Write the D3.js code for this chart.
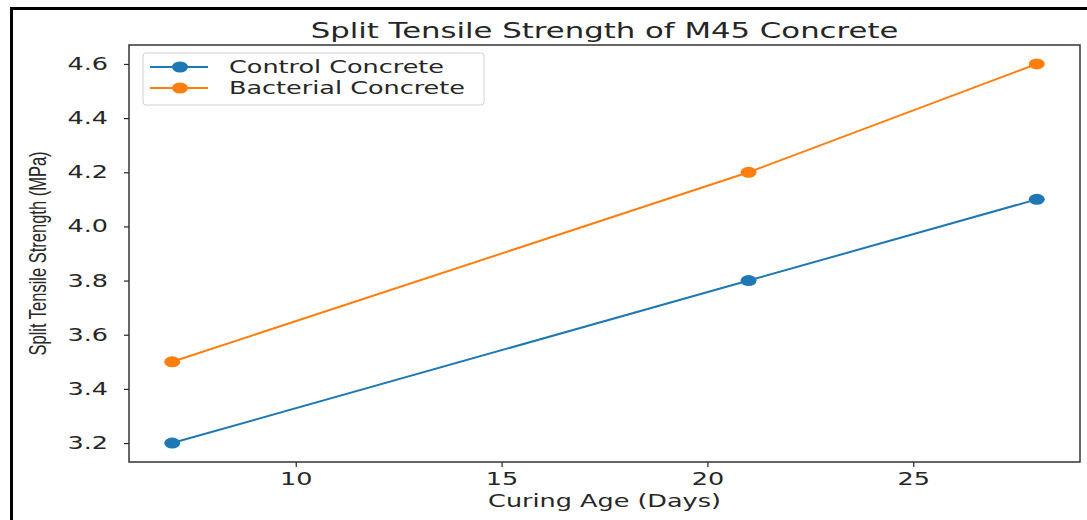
<!DOCTYPE html>
<html>
<head>
<meta charset="utf-8">
<script src="https://cdn.jsdelivr.net/npm/d3@7"></script>
<style>
  body { margin: 0; background: #fff; }
  text { font-family: "DejaVu Sans", sans-serif; fill: #262626; }
</style>
</head>
<body>
<div id="chart"></div>
<script>
// data
var days = [7, 21, 28];
var controlValues = [3.2, 3.8, 4.1];
var bacterialValues = [3.5, 4.2, 4.6];
var seriesNames = ["Control Concrete", "Bacterial Concrete"];
var xTicks = [10, 15, 20, 25];
var yTicks = [3.2, 3.4, 3.6, 3.8, 4.0, 4.2, 4.4, 4.6];

var colors = ["#1f77b4", "#ff7f0e"];
var sx = 1.5; // the picture is stretched sideways

// set the dimensions and margins of the graph
var margin = {top: 45, right: 7, bottom: 58, left: 129},
    width = 1087 - margin.left - margin.right,
    height = 520 - margin.top - margin.bottom;

var root = d3.select("#chart")
  .append("svg")
    .attr("width", 1087)
    .attr("height", 520);

// black frame round the picture (only left and top visible)
root.append("path")
  .attr("d", "M11.5,520 L11.5,8.5 L1087,8.5")
  .attr("fill", "none")
  .attr("stroke", "#000")
  .attr("stroke-width", 3);

var svg = root.append("g")
  .attr("transform", "translate(" + margin.left + "," + margin.top + ")");

// scales with matplotlib's 5% padding
var x = d3.scaleLinear()
  .domain([7 - 21 * 0.05, 28 + 21 * 0.05])
  .range([0, width]);
var y = d3.scaleLinear()
  .domain([3.2 - 1.4 * 0.05, 4.6 + 1.4 * 0.05])
  .range([height, 0]);

// X axis
var xAxis = svg.append("g")
  .attr("transform", "translate(0," + height + ")")
  .call(d3.axisBottom(x).tickValues(xTicks).tickFormat(d3.format("d")).tickSize(5).tickSizeOuter(0));
xAxis.selectAll("text")
  .attr("y", 23).attr("dy", 0)
  .attr("transform", "scale(" + sx + ",1)")
  .style("font-size", "17px");

// Y axis
var yAxis = svg.append("g")
  .call(d3.axisLeft(y).tickValues(yTicks).tickFormat(d3.format(".1f")).tickSize(5).tickSizeOuter(0));
yAxis.selectAll("text")
  .attr("x", -21 / sx)
  .attr("transform", "scale(" + sx + ",1)")
  .style("font-size", "17px");

svg.selectAll(".domain").remove();
svg.selectAll(".tick line").attr("stroke", "#262626").attr("stroke-width", 1.2);

// frame of the plot
svg.append("rect")
  .attr("width", width)
  .attr("height", height)
  .attr("fill", "none")
  .attr("stroke", "#333")
  .attr("stroke-width", 1.5);

// lines and dots
var allSeries = [controlValues, bacterialValues];
var line = d3.line()
  .x(function (d, i) { return x(days[i]); })
  .y(function (d) { return y(d); });

allSeries.forEach(function (vals, k) {
  svg.append("path")
    .datum(vals)
    .attr("d", line)
    .attr("fill", "none")
    .attr("stroke", colors[k])
    .attr("stroke-width", 2);
  svg.append("g")
    .selectAll("ellipse")
    .data(vals)
    .enter()
    .append("ellipse")
      .attr("cx", function (d, i) { return x(days[i]); })
      .attr("cy", function (d) { return y(d); })
      .attr("rx", 8)
      .attr("ry", 5.5)
      .attr("fill", colors[k]);
});

// title
root.append("text")
  .attr("transform", "translate(" + (margin.left + width / 2) + ",38) scale(" + sx + ",1)")
  .style("text-anchor", "middle")
  .style("font-size", "20.5px")
  .text("Split Tensile Strength of M45 Concrete");

// x label
root.append("text")
  .attr("transform", "translate(" + (margin.left + width / 2) + ",507) scale(" + sx + ",1)")
  .style("text-anchor", "middle")
  .style("font-size", "17px")
  .text("Curing Age (Days)");

// y label
root.append("text")
  .attr("transform", "translate(46," + (margin.top + height / 2) + ") scale(1.4,1) rotate(-90)")
  .style("text-anchor", "middle")
  .style("font-family", "'Liberation Sans', sans-serif")
  .style("font-size", "16.5px")
  .text("Split Tensile Strength (MPa)");

// legend
var legend = svg.append("g").attr("transform", "translate(14,8)");
legend.append("rect")
  .attr("width", 341)
  .attr("height", 52)
  .attr("rx", 3)
  .attr("fill", "#fff")
  .attr("fill-opacity", 0.8)
  .attr("stroke", "#d0d0d0")
  .attr("stroke-width", 1);

var item = legend.selectAll(".item")
  .data(seriesNames)
  .enter()
  .append("g")
    .attr("transform", function (d, i) { return "translate(0," + (14 + i * 21) + ")"; });
item.append("line")
  .attr("x1", 7).attr("x2", 65)
  .attr("stroke", function (d, i) { return colors[i]; })
  .attr("stroke-width", 2);
item.append("ellipse")
  .attr("cx", 37)
  .attr("rx", 8).attr("ry", 5.5)
  .attr("fill", function (d, i) { return colors[i]; });
item.append("text")
  .attr("transform", "translate(86,6) scale(" + sx + ",1)")
  .style("font-size", "17px")
  .text(function (d) { return d; });
</script>
</body>
</html>
